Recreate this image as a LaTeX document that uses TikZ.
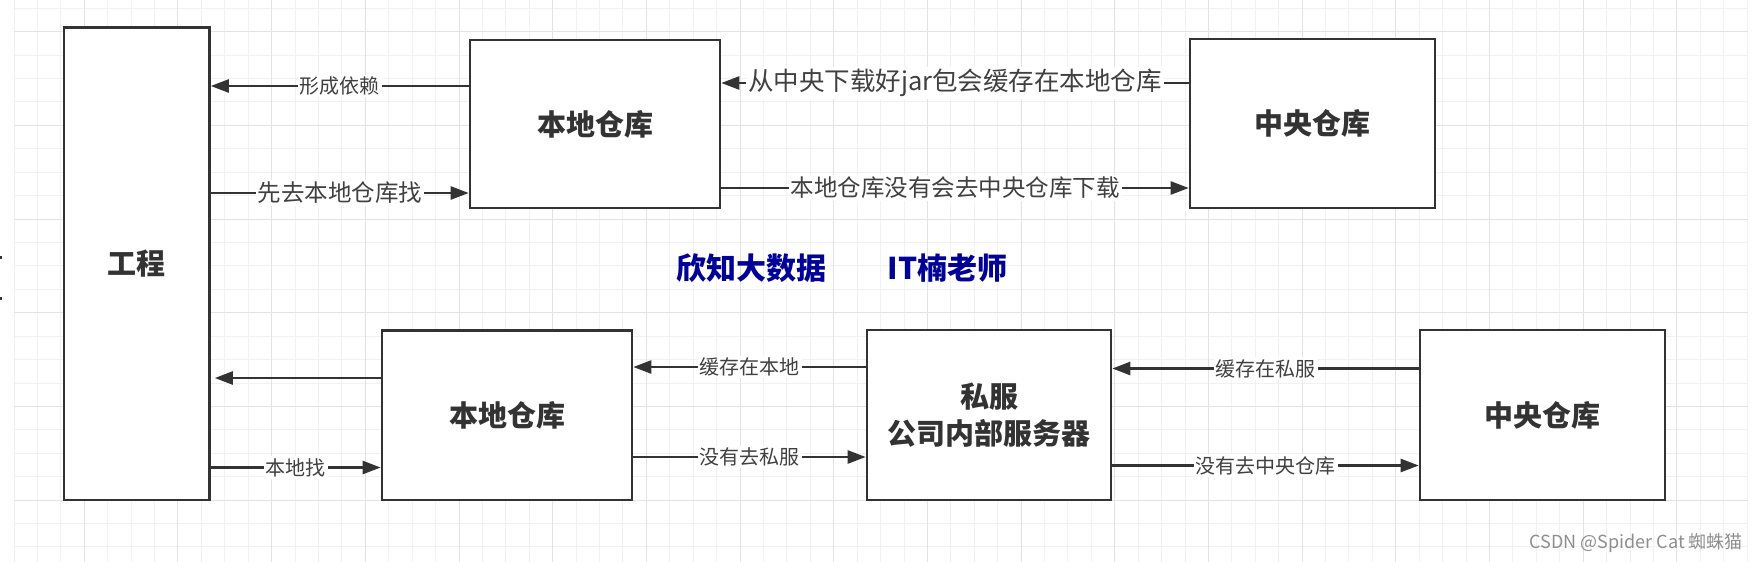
\documentclass[tikz,border=0pt]{standalone}
\usepackage{fontspec}
\setmainfont{Noto Sans CJK SC}
\usetikzlibrary{arrows.meta}
\definecolor{lc}{HTML}{333333}
\definecolor{tc}{HTML}{404040}
\definecolor{gminor}{HTML}{F1F1F1}
\definecolor{gmajor}{HTML}{E3E3E3}
\definecolor{brandblue}{HTML}{000099}
\definecolor{wm}{HTML}{8E8E8E}
\begin{document}
\begin{tikzpicture}[x=1pt,y=-1pt,
  box/.style={draw=lc, line width=2.6pt, fill=white, inner sep=0pt,
    font=\fontsize{29}{37}\selectfont\bfseries, text=lc, align=center},
  arr/.style={draw=lc, line width=2.4pt, -{Triangle[length=18pt,width=13pt]}},
  lbl/.style={fill=white, inner sep=2pt, text=tc, font=\fontsize{20}{24}\selectfont},
  lblbig/.style={lbl, font=\fontsize{23.5}{28}\selectfont},
  lblhuge/.style={lbl, font=\fontsize{25.5}{30}\selectfont},
  brand/.style={text=brandblue, font=\fontsize{30}{36}\selectfont\bfseries, inner sep=0pt}]
\useasboundingbox (0,0) rectangle (1759,562);
\fill[white] (0,0) rectangle (1759,562);
% grid
\foreach \k in {0,...,74} \draw[gminor, line width=1pt] ({14.04+23.42*\k},0) -- ({14.04+23.42*\k},562);
\foreach \k in {0,...,23} \draw[gminor, line width=1pt] (14,{8.3+23.42*\k}) -- (1748,{8.3+23.42*\k});
\foreach \k in {3,7,...,71} \draw[gmajor, line width=1pt] ({14.04+23.42*\k},0) -- ({14.04+23.42*\k},562);
\foreach \k in {1,5,...,21} \draw[gmajor, line width=1pt] (14,{8.3+23.42*\k}) -- (1748,{8.3+23.42*\k});
% left edge marks
\fill[lc] (0,256) rectangle (2,259);
\fill[lc] (0,297) rectangle (2,300);
% boxes
\node[box, minimum width=145.5pt, minimum height=472.5pt] (gc) at (136.75,263.75) {工程};
\node[box, minimum width=250pt, minimum height=168pt] (local1) at (595,124) {本地仓库};
\node[box, minimum width=245pt, minimum height=169pt] (central1) at (1312.5,123.6) {中央仓库};
\node[box, minimum width=250pt, minimum height=169.5pt] (local2) at (507,415.25) {本地仓库};
\node[box, minimum width=244pt, minimum height=170pt] (sf) at (989,415) {私服\\公司内部服务器};
\node[box, minimum width=245pt, minimum height=170pt] (central2) at (1542.5,415) {中央仓库};
% y levels
\coordinate (yA) at (0,86);
\coordinate (yB) at (0,193);
\coordinate (yC) at (0,83);
\coordinate (yD) at (0,188);
\coordinate (yE) at (0,378);
\coordinate (yF) at (0,467.5);
\coordinate (yG) at (0,367);
\coordinate (yH) at (0,457);
\coordinate (yI) at (0,368.5);
\coordinate (yJ) at (0,465.5);
% top connectors
\draw[arr] (local1.west |- yA) -- node[lbl]{形成依赖} (gc.east |- yA);
\draw[arr] (gc.east |- yB) -- node[lblbig]{先去本地仓库找} (local1.west |- yB);
\draw[arr] (central1.west |- yC) -- node[lblhuge]{从中央下载好jar包会缓存在本地仓库} (local1.east |- yC);
\draw[arr] (local1.east |- yD) -- node[lblbig]{本地仓库没有会去中央仓库下载} (central1.west |- yD);
% bottom connectors
\draw[arr, shorten >=4pt] (local2.west |- yE) -- (gc.east |- yE);
\draw[arr] (gc.east |- yF) -- node[lbl]{本地找} (local2.west |- yF);
\draw[arr] (sf.west |- yG) -- node[lbl]{缓存在本地} (local2.east |- yG);
\draw[arr] (local2.east |- yH) -- node[lbl]{没有去私服} (sf.west |- yH);
\draw[arr] (central2.west |- yI) -- node[lbl]{缓存在私服} (sf.east |- yI);
\draw[arr] (sf.east |- yJ) -- node[lbl]{没有去中央仓库} (central2.west |- yJ);
% brand texts
\node[brand] (b1) at (751,268) {欣知大数据};
\node[brand] (b2) at (947.5,268) {IT楠老师};
% watermark
\node[anchor=east, text=wm, font=\fontsize{18}{22}\selectfont, inner sep=0pt] (wmk) at (1743,543) {CSDN @Spider Cat 蜘蛛猫};
\end{tikzpicture}
\end{document}
